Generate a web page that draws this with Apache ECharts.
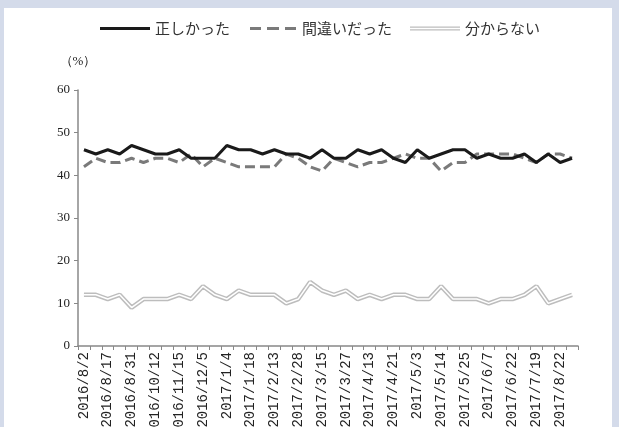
<!DOCTYPE html>
<html>
<head>
<meta charset="utf-8">
<style>
html,body{margin:0;padding:0;background:#d4dbea;}
#frame{position:absolute;left:4px;top:8px;width:608px;height:419px;background:#fff;}
#chart{position:absolute;left:0;top:0;width:619px;height:427px;}
</style>
<script src="https://cdn.jsdelivr.net/npm/echarts@6/dist/echarts.min.js"></script>
</head>
<body>
<div id="frame"></div>
<div id="chart"></div>
<script>
const categories = [
  '2016/8/2','2016/8/9','2016/8/17','2016/8/24','2016/8/31','2016/9/14','2016/10/12','2016/10/26',
  '2016/11/15','2016/11/24','2016/12/5','2016/12/20','2017/1/4','2017/1/11','2017/1/18','2017/2/1',
  '2017/2/13','2017/2/21','2017/2/28','2017/3/8','2017/3/15','2017/3/21','2017/3/27','2017/4/5',
  '2017/4/13','2017/4/17','2017/4/21','2017/4/27','2017/5/3','2017/5/9','2017/5/14','2017/5/19',
  '2017/5/25','2017/6/1','2017/6/7','2017/6/14','2017/6/22','2017/7/5','2017/7/19','2017/8/2',
  '2017/8/22','2017/8/29'
];
const correct = [46,45,46,45,47,46,45,45,46,44,44,44,47,46,46,45,46,45,45,44,46,44,44,46,45,46,44,43,46,44,45,46,46,44,45,44,44,45,43,45,43,44];
const wrong   = [42,44,43,43,44,43,44,44,43,45,42,44,43,42,42,42,42,45,44,42,41,44,43,42,43,43,44,45,44,44,41,43,43,45,45,45,45,44,43,45,45,44];
const unknown = [12,12,11,12,9,11,11,11,12,11,14,12,11,13,12,12,12,10,11,15,13,12,13,11,12,11,12,12,11,11,14,11,11,11,10,11,11,12,14,10,11,12];
const yTicks = [0,10,20,30,40,50,60];
const seriesNames = ['正しかった','間違いだった','分からない'];

const chart = echarts.init(document.getElementById('chart'), null, {renderer:'canvas'});
const serif = '"Liberation Serif","DejaVu Serif",serif';
const mono = '"Liberation Mono","DejaVu Sans Mono",monospace';
const jp = '"Noto Sans CJK JP","Noto Sans CJK SC",sans-serif';
const pad = 'M0,0H0.01V0.01H0Z M0,5.99H0.01V6H0Z ';
chart.setOption({
  backgroundColor: 'transparent',
  animation: false,
  legend: {
    left: 95, top: 16,
    itemWidth: 50, itemHeight: 6, itemGap: 18,
    textStyle: {fontFamily: jp, fontSize: 15, color: '#333'},
    data: [
      {name: seriesNames[0], icon: 'path://' + pad + 'M0,1.5H50V4.5H0Z', itemStyle: {color: '#1a1a1a', borderWidth: 0}},
      {name: seriesNames[1], icon: 'path://' + pad + 'M2,1.5H13V4.5H2Z M19,1.5H31V4.5H19Z M37,1.5H48V4.5H37Z', itemStyle: {color: '#7a7a7a', borderWidth: 0}},
      {name: seriesNames[2], icon: 'path://' + pad + 'M0,1H50V2.3H0Z M0,3.7H50V5H0Z', itemStyle: {color: '#bdbdbd', borderWidth: 0}}
    ]
  },
  grid: {left: 78, right: 41, top: 90, bottom: 81, containLabel: false, outerBoundsMode: 'none'},
  xAxis: {
    type: 'category',
    data: categories,
    boundaryGap: true,
    axisLine: {lineStyle: {color: '#888', width: 1.5}},
    axisTick: {show: true, interval: 0, length: 4, lineStyle: {color: '#888'}},
    axisLabel: {interval: 1, rotate: 90, fontFamily: mono, fontSize: 14, color: '#222', margin: 6}
  },
  yAxis: {
    type: 'value',
    min: yTicks[0], max: yTicks[yTicks.length-1], interval: 10,
    name: '（%）',
    nameLocation: 'end',
    nameGap: 22,
    nameTextStyle: {fontFamily: serif, fontSize: 13, color: '#222', align: 'center'},
    axisLine: {show: true, lineStyle: {color: '#888', width: 1.5}},
    axisTick: {show: true, length: 4, inside: false, lineStyle: {color: '#888'}},
    splitLine: {show: false},
    axisLabel: {fontFamily: serif, fontSize: 13, color: '#222', margin: 8}
  },
  series: [
    {name: seriesNames[0], type: 'line', data: correct, symbol: 'none', z: 5,
     itemStyle: {color: '#1a1a1a'}, lineStyle: {color: '#1a1a1a', width: 3}},
    {name: seriesNames[1], type: 'line', data: wrong, symbol: 'none', z: 4,
     itemStyle: {color: '#7a7a7a'}, lineStyle: {color: '#7a7a7a', width: 3, type: [10, 5]}},
    {name: seriesNames[2], type: 'line', data: unknown, symbol: 'none', z: 3,
     itemStyle: {color: '#bdbdbd'}, lineStyle: {color: '#bdbdbd', width: 4.5}},
    {name: seriesNames[2] + '_inner', type: 'line', data: unknown, symbol: 'none', z: 3.5,
     itemStyle: {color: '#ffffff'}, lineStyle: {color: '#ffffff', width: 1.5}}
  ]
});
</script>
</body>
</html>
